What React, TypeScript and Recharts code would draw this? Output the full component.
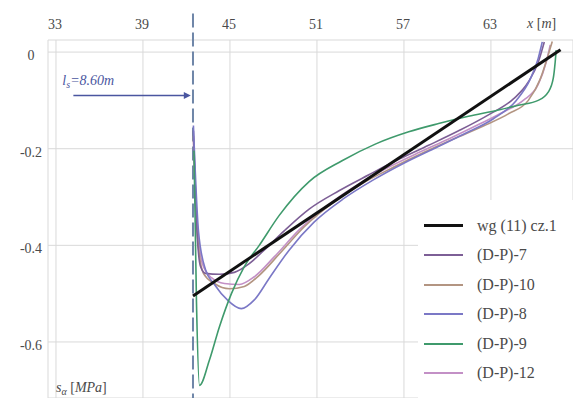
import React from "react";
import {
  LineChart,
  Line,
  XAxis,
  YAxis,
  CartesianGrid,
  ReferenceLine,
} from "recharts";

// Axis ticks
const X_TICKS = [33, 39, 45, 51, 57, 63];
const Y_TICKS = [0, -0.2, -0.4, -0.6];
const X_DOMAIN: [number, number] = [32.45, 68.66];
const Y_DOMAIN: [number, number] = [-0.716, 0.025];

// Position of the l_s marker (x coordinate in metres)
const LS_X = 42.45;
const LS_ARROW_FROM = 34.2;
const LS_ARROW_Y = -0.09;

// Theoretical line, wg (11) cz.1
const wgLine = [
  { x: 42.45, y: -0.505 },
  { x: 67.8, y: 0.005 },
];

// Measured profiles
const dp7 = [
  { x: 42.48, y: -0.163 },
  { x: 42.69, y: -0.35 },
  { x: 42.97, y: -0.444 },
  { x: 43.31, y: -0.458 },
  { x: 44.27, y: -0.46 },
  { x: 45.3, y: -0.456 },
  { x: 46.33, y: -0.438 },
  { x: 47.36, y: -0.41 },
  { x: 48.74, y: -0.37 },
  { x: 50.46, y: -0.325 },
  { x: 52.52, y: -0.287 },
  { x: 54.58, y: -0.254 },
  { x: 56.64, y: -0.222 },
  { x: 58.7, y: -0.193 },
  { x: 60.77, y: -0.163 },
  { x: 62.83, y: -0.13 },
  { x: 64.55, y: -0.097 },
  { x: 65.58, y: -0.062 },
  { x: 66.26, y: -0.021 },
  { x: 66.68, y: 0.021 },
];

const dp10 = [
  { x: 42.48, y: -0.173 },
  { x: 42.76, y: -0.381 },
  { x: 43.17, y: -0.458 },
  { x: 43.93, y: -0.479 },
  { x: 44.96, y: -0.49 },
  { x: 45.99, y: -0.485 },
  { x: 47.02, y: -0.462 },
  { x: 48.4, y: -0.418 },
  { x: 50.11, y: -0.362 },
  { x: 52.18, y: -0.31 },
  { x: 54.24, y: -0.27 },
  { x: 56.3, y: -0.238 },
  { x: 58.36, y: -0.208 },
  { x: 60.42, y: -0.18 },
  { x: 62.48, y: -0.153 },
  { x: 64.2, y: -0.128 },
  { x: 65.58, y: -0.1 },
  { x: 66.4, y: -0.056 },
  { x: 66.95, y: -0.006 },
  { x: 67.23, y: 0.022 },
];

const dp8 = [
  { x: 42.48, y: -0.152 },
  { x: 42.83, y: -0.371 },
  { x: 43.31, y: -0.45 },
  { x: 43.93, y: -0.481 },
  { x: 44.82, y: -0.513 },
  { x: 45.78, y: -0.531 },
  { x: 46.68, y: -0.513 },
  { x: 47.71, y: -0.468 },
  { x: 49.08, y: -0.41 },
  { x: 50.8, y: -0.352 },
  { x: 52.86, y: -0.303 },
  { x: 54.92, y: -0.264 },
  { x: 56.99, y: -0.23 },
  { x: 59.05, y: -0.2 },
  { x: 61.11, y: -0.17 },
  { x: 63.17, y: -0.138 },
  { x: 64.75, y: -0.1 },
  { x: 65.71, y: -0.056 },
  { x: 66.26, y: -0.013 },
  { x: 66.54, y: 0.021 },
];

const dp9 = [
  { x: 42.52, y: -0.204 },
  { x: 42.69, y: -0.517 },
  { x: 42.9, y: -0.69 },
  { x: 43.58, y: -0.638 },
  { x: 44.27, y: -0.569 },
  { x: 45.1, y: -0.5 },
  { x: 45.99, y: -0.444 },
  { x: 47.02, y: -0.4 },
  { x: 48.4, y: -0.338 },
  { x: 50.46, y: -0.268 },
  { x: 52.73, y: -0.225 },
  { x: 55.06, y: -0.19 },
  { x: 57.33, y: -0.165 },
  { x: 59.39, y: -0.148 },
  { x: 61.45, y: -0.133 },
  { x: 63.52, y: -0.12 },
  { x: 64.89, y: -0.11 },
  { x: 66.26, y: -0.1 },
  { x: 66.95, y: -0.083 },
  { x: 67.3, y: -0.054 },
  { x: 67.43, y: -0.021 },
  { x: 67.5, y: 0.004 },
];

const dp12 = [
  { x: 42.48, y: -0.183 },
  { x: 42.69, y: -0.329 },
  { x: 43.1, y: -0.438 },
  { x: 43.72, y: -0.467 },
  { x: 44.62, y: -0.479 },
  { x: 45.65, y: -0.481 },
  { x: 46.68, y: -0.465 },
  { x: 48.05, y: -0.424 },
  { x: 49.77, y: -0.368 },
  { x: 51.83, y: -0.315 },
  { x: 53.89, y: -0.273 },
  { x: 55.96, y: -0.238 },
  { x: 58.02, y: -0.208 },
  { x: 60.08, y: -0.18 },
  { x: 62.14, y: -0.15 },
  { x: 63.86, y: -0.124 },
  { x: 65.23, y: -0.1 },
  { x: 66.26, y: -0.067 },
  { x: 66.81, y: -0.021 },
  { x: 67.09, y: 0.015 },
];

type Pt = { x: number; y: number };
type Series = { name: string; data: Pt[]; color: string; width: number };

const SERIES: Series[] = [
  { name: "wg (11) cz.1", data: wgLine, color: "#111111", width: 3 },
  { name: "(D-P)-7", data: dp7, color: "#7d5f96", width: 1.6 },
  { name: "(D-P)-10", data: dp10, color: "#b39582", width: 1.6 },
  { name: "(D-P)-8", data: dp8, color: "#7b78c6", width: 1.6 },
  { name: "(D-P)-9", data: dp9, color: "#3f9a6c", width: 1.6 },
  { name: "(D-P)-12", data: dp12, color: "#c390c6", width: 1.6 },
];

// Draw order: measured profiles first, theoretical line on top
const DRAW_ORDER = [5, 2, 1, 3, 4, 0];

const FONT =
  "'Liberation Serif', 'Tinos', 'Times New Roman', 'Noto Serif', 'DejaVu Serif', 'FreeSerif', serif";
const TEXT_COLOR = "#4a4a4a";

const fmtY = (v: number) => (v === 0 ? "0" : v.toFixed(1));

const XTick = (props: any) => {
  const { x, payload } = props;
  return (
    <text
      x={x - 1}
      y={29}
      textAnchor="middle"
      style={{ fontFamily: FONT, fontSize: 14 }}
      fill={TEXT_COLOR}
    >
      {payload.value}
    </text>
  );
};

const YTick = (props: any) => {
  const { y, payload } = props;
  return (
    <text
      x={31}
      y={y + 8}
      textAnchor="middle"
      style={{ fontFamily: FONT, fontSize: 14 }}
      fill={TEXT_COLOR}
    >
      {fmtY(payload.value)}
    </text>
  );
};

const XAxisTitle = (props: any) => {
  const vb = props.viewBox || { x: 48, width: 525 };
  return (
    <text
      x={vb.x + vb.width - 46}
      y={28}
      style={{ fontFamily: FONT, fontSize: 14 }}
      fill={TEXT_COLOR}
    >
      <tspan fontStyle="italic">x</tspan>
      <tspan> [</tspan>
      <tspan fontStyle="italic">m</tspan>
      <tspan>]</tspan>
    </text>
  );
};

const YAxisTitle = (props: any) => {
  const vb = props.viewBox || { y: 40, height: 358 };
  return (
    <text
      x={56}
      y={vb.y + vb.height - 6}
      style={{ fontFamily: FONT, fontSize: 14 }}
      fill={TEXT_COLOR}
    >
      <tspan fontStyle="italic">s</tspan>
      <tspan fontStyle="italic" fontSize={10} dy={3}>
        α
      </tspan>
      <tspan dy={-3}> [</tspan>
      <tspan fontStyle="italic">MPa</tspan>
      <tspan>]</tspan>
    </text>
  );
};

// Arrow pointing to the l_s line, with its label
const LsArrow = (props: any) => {
  const { x1, y1, x2, y2 } = props;
  const color = "#4a56a0";
  return (
    <g>
      <line x1={x1} y1={y1} x2={x2 - 5} y2={y2} stroke={color} strokeWidth={1.4} />
      <polygon
        points={`${x2},${y2} ${x2 - 7},${y2 - 3.5} ${x2 - 7},${y2 + 3.5}`}
        fill={color}
      />
      <text
        x={x1 - 11}
        y={y1 - 11}
        style={{ fontFamily: FONT, fontSize: 14, fontStyle: "italic" }}
        fill={color}
      >
        <tspan>l</tspan>
        <tspan fontSize={10} dy={3}>
          s
        </tspan>
        <tspan dy={-3}>=8.60</tspan>
        <tspan>m</tspan>
      </text>
    </g>
  );
};

const LegendBox = () => (
  <div
    style={{
      position: "absolute",
      left: 418,
      top: 200,
      background: "#ffffff",
      width: 155,
      height: 198,
      paddingTop: 11,
      boxSizing: "border-box",
      fontFamily: FONT,
      fontSize: 16,
      color: TEXT_COLOR,
    }}
  >
    {SERIES.map((s) => (
      <div
        key={s.name}
        style={{ display: "flex", alignItems: "center", height: 29.5 }}
      >
        <div
          style={{
            marginLeft: 6,
            width: 39,
            height: s.width === 3 ? 3 : 2,
            background: s.color,
          }}
        />
        <span style={{ marginLeft: 14, whiteSpace: "nowrap" }}>{s.name}</span>
      </div>
    ))}
  </div>
);

export default function App() {
  return (
    <div
      style={{
        position: "absolute",
        left: 0,
        top: 0,
        width: 573,
        height: 398,
        background: "#ffffff",
      }}
    >
      <LineChart
        width={573}
        height={398}
        margin={{ top: 0, right: 0, bottom: 0, left: 0 }}
      >
        <CartesianGrid stroke="#d9d9d9" strokeWidth={1} />
        <XAxis
          type="number"
          dataKey="x"
          orientation="top"
          domain={X_DOMAIN}
          ticks={X_TICKS}
          height={40}
          axisLine={false}
          tickLine={false}
          tick={XTick}
          allowDataOverflow
          label={{ content: XAxisTitle }}
        />
        <YAxis
          type="number"
          dataKey="y"
          domain={Y_DOMAIN}
          ticks={Y_TICKS}
          width={48}
          axisLine={false}
          tickLine={false}
          tick={YTick}
          allowDataOverflow
          label={{ content: YAxisTitle }}
        />
        <ReferenceLine
          segment={[
            { x: LS_X, y: 0.08 },
            { x: LS_X, y: -0.716 },
          ]}
          stroke="#6f86a8"
          strokeWidth={2}
          strokeDasharray="14 5"
          ifOverflow="visible"
        />
        <ReferenceLine
          segment={[
            { x: LS_ARROW_FROM, y: LS_ARROW_Y },
            { x: LS_X - 0.15, y: LS_ARROW_Y },
          ]}
          shape={LsArrow}
          ifOverflow="visible"
        />
        {DRAW_ORDER.map((i) => {
          const s = SERIES[i];
          return (
            <Line
              key={s.name}
              data={s.data}
              dataKey="y"
              name={s.name}
              type="monotoneX"
              stroke={s.color}
              strokeWidth={s.width}
              dot={false}
              activeDot={false}
              isAnimationActive={false}
            />
          );
        })}
      </LineChart>
      <LegendBox />
    </div>
  );
}
